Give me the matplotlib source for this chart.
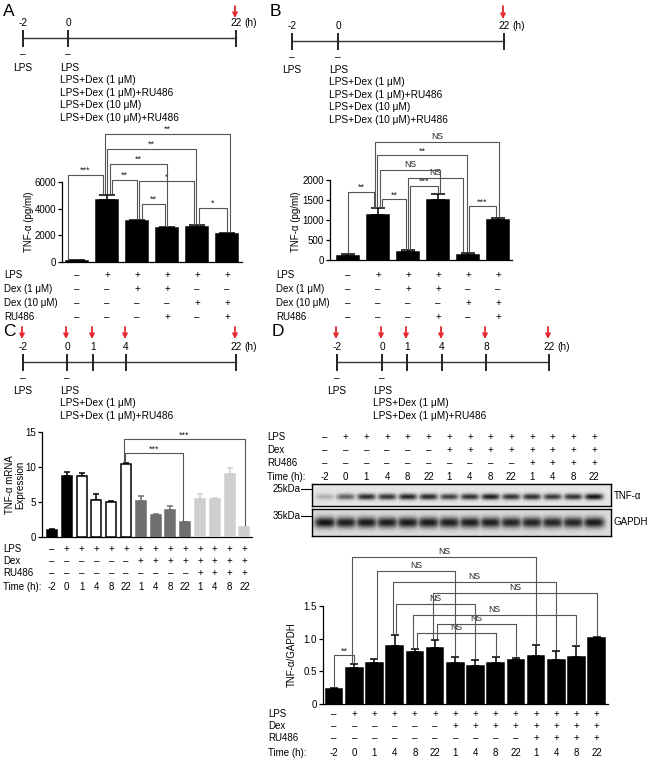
import numpy as np
import matplotlib
matplotlib.use("Agg")
import matplotlib.pyplot as plt
from matplotlib.transforms import blended_transform_factory

plt.rcParams['font.family'] = ['Liberation Sans', 'DejaVu Sans']
plt.rcParams['font.size'] = 7
plt.rcParams['axes.linewidth'] = 0.9

W, H = 650, 760
fig = plt.figure(figsize=(W / 100, H / 100), dpi=100)

# ======================= DATA =======================
# --- Panel A ---
a_tl_labels = ['-2', '0', '22']
a_tl_arrows = [False, False, True]
a_treatments = ['LPS', 'LPS+Dex (1 μM)', 'LPS+Dex (1 μM)+RU486',
                'LPS+Dex (10 μM)', 'LPS+Dex (10 μM)+RU486']
a_row_labels = ['LPS', 'Dex (1 μM)', 'Dex (10 μM)', 'RU486']
a_signs = [['–', '+', '+', '+', '+', '+'],
           ['–', '–', '+', '+', '–', '–'],
           ['–', '–', '–', '–', '+', '+'],
           ['–', '–', '–', '+', '–', '+']]
a_values = [100, 4650, 3100, 2530, 2660, 2100]
a_errors = [30, 400, 70, 70, 90, 90]
a_yticks = [0, 2000, 4000, 6000]
# (bar i, bar j, bracket height, label)
a_sig = [(0, 1, 6550, '***'), (1, 2, 6170, '**'), (2, 4, 6080, '*'),
         (1, 3, 7380, '**'), (1, 4, 8500, '**'), (1, 5, 9630, '**'),
         (2, 3, 4380, '**'), (4, 5, 4080, '*')]

# --- Panel B ---
b_tl_labels = ['-2', '0', '22']
b_tl_arrows = [False, False, True]
b_treatments = a_treatments
b_row_labels = a_row_labels
b_signs = a_signs
b_values = [100, 1120, 200, 1500, 130, 1000]
b_errors = [40, 170, 40, 160, 50, 60]
b_yticks = [0, 500, 1000, 1500, 2000]
b_sig = [(1, 5, 2958, 'NS'), (1, 4, 2625, '**'), (1, 3, 2250, 'NS'),
         (2, 4, 2058, 'NS'), (0, 1, 1708, '**'), (1, 2, 1525, '**'),
         (2, 3, 1858, '***'), (4, 5, 1350, '***')]

# --- Panel C ---
c_tl_labels = ['-2', '0', '1', '4', '22']
c_tl_arrows = [True, True, True, True, True]
c_treatments = ['LPS', 'LPS+Dex (1 μM)', 'LPS+Dex (1 μM)+RU486']
c_row_labels = ['LPS', 'Dex', 'RU486', 'Time (h):']
c_lps = ['–'] + ['+'] * 13
c_dex = ['–'] * 6 + ['+'] * 8
c_ru = ['–'] * 10 + ['+'] * 4
c_time = ['-2', '0', '1', '4', '8', '22', '1', '4', '8', '22', '1', '4', '8', '22']
c_values = [1.05, 8.7, 8.7, 5.3, 4.95, 10.5, 5.2, 3.15, 3.85, 2.1, 5.5, 5.5, 9.05, 1.45]
c_errors = [0.05, 0.55, 0.4, 0.8, 0.15, 0.1, 0.7, 0.1, 0.55, 0.05, 0.7, 0.05, 0.8, 0.05]
c_group = ['ctrl', 'ctrl', 'lps', 'lps', 'lps', 'lps', 'dex', 'dex', 'dex', 'dex',
           'ru', 'ru', 'ru', 'ru']
c_yticks = [0, 5, 10, 15]
c_sig = [(5, 9, 12.0, '***'), (5, 13, 13.95, '***')]

# --- Panel D ---
d_tl_labels = ['-2', '0', '1', '4', '8', '22']
d_tl_arrows = [True, True, True, True, True, True]
d_treatments = c_treatments
d_row_labels = c_row_labels
d_lps = c_lps
d_dex = c_dex
d_ru = c_ru
d_time = c_time
d_tnf_band = [0.25, 0.62, 0.9, 0.85, 0.92, 0.9, 0.78, 0.85, 0.95, 0.85, 0.88, 0.82, 0.85, 1.0]
d_gapdh_band = [1.0, 0.95, 0.97, 0.95, 0.97, 0.97, 0.95, 0.95, 0.95, 0.92, 0.92, 0.92, 0.92, 0.97]
d_values = [0.23, 0.55, 0.63, 0.89, 0.80, 0.86, 0.63, 0.58, 0.63, 0.68, 0.74, 0.68, 0.72, 1.02]
d_errors = [0.02, 0.065, 0.055, 0.165, 0.045, 0.12, 0.09, 0.10, 0.10, 0.025, 0.16, 0.14, 0.165, 0.015]
d_yticks = [0, 0.5, 1.0, 1.5]
d_yticklabels = ['0', '0.5', '1.0', '1.5']
d_sig = [(1, 10, 2.26, 'NS'), (2, 6, 2.05, 'NS'), (3, 11, 1.88, 'NS'),
         (5, 13, 1.71, 'NS'), (3, 7, 1.54, 'NS'), (4, 12, 1.37, 'NS'),
         (5, 9, 1.23, 'NS'), (4, 8, 1.09, 'NS'), (0, 1, 0.75, '**')]

# ======================= LAYOUT / STYLE =======================
RED = '#e3262b'
LINE = '#333333'
BR = '#555555'
FS = 7.0
FS_T = 7.3


def px_ax(x0, y0, x1, y1):
    ax = fig.add_axes([x0 / W, 1 - y1 / H, (x1 - x0) / W, (y1 - y0) / H])
    ax.patch.set_alpha(0)
    return ax


def ftext(x, y, s, **kw):
    kw.setdefault('va', 'center')
    return fig.text(x / W, 1 - y / H, s, **kw)


# overlay (schematic) axes in pixel units
ov = fig.add_axes([0, 0, 1, 1])
ov.set_xlim(0, W)
ov.set_ylim(H, 0)
ov.axis('off')


def timeline(xs, y_line, labels, arrows, lab_y, arrow_y, treat_x, treat_y, treatments):
    ov.plot([xs[0], xs[-1]], [y_line, y_line], color=LINE, lw=1.0)
    for x, lab, arr in zip(xs, labels, arrows):
        ov.plot([x, x], [y_line - 7, y_line + 8], color='#222222', lw=1.4)
        ov.text(x, lab_y, lab, ha='center', va='center', fontsize=FS_T)
        if arr:
            ov.annotate('', xy=(x - 1, arrow_y[1]), xytext=(x - 1, arrow_y[0]),
                        arrowprops=dict(arrowstyle='->', color=RED, lw=1.3,
                                        mutation_scale=7, shrinkA=0, shrinkB=0))
    ov.text(xs[-1] + 8, lab_y, '(h)', ha='left', va='center', fontsize=FS_T)
    for x in xs[:2]:
        ov.text(x, y_line + 16, '–', ha='center', va='center', fontsize=FS_T)
    ov.text(xs[0], treat_y, 'LPS', ha='center', va='center', fontsize=FS_T)
    for k, t in enumerate(treatments):
        ov.text(treat_x, treat_y + k * 12.4, t, ha='left', va='center', fontsize=FS_T)


def bar_chart(rect, values, errors, width, xlim, ylim, yticks, yticklabels,
              colors, edgecolors, ecolors, capsize):
    ax = px_ax(*rect)
    x = np.arange(len(values))
    ax.bar(x, values, width=width, color=colors, edgecolor=edgecolors,
           linewidth=1.1, zorder=3)
    for xi, v, e, c in zip(x, values, errors, ecolors):
        ax.errorbar(xi, v, yerr=[[0], [e]], fmt='none', ecolor=c, elinewidth=1.1,
                    capsize=capsize, capthick=1.1, zorder=2)
    ax.set_xlim(*xlim)
    ax.set_ylim(*ylim)
    ax.set_xticks([])
    ax.set_yticks(yticks)
    ax.set_yticklabels(yticklabels, fontsize=FS)
    ax.tick_params(axis='y', length=3, width=0.9, pad=1.2)
    for s in ['top', 'right']:
        ax.spines[s].set_visible(False)
    ax.spines['left'].set_bounds(yticks[0], yticks[-1])
    return ax


def brackets(ax, values, errors, sig, gap, dx, fs=6.5, ns_fs=6.2):
    for (i, j, y, lab), (dxi, dxj) in zip(sig, dx):
        xi, xj = i + dxi, j + dxj
        yi = values[i] + errors[i] + gap
        yj = values[j] + errors[j] + gap
        ax.plot([xi, xi, xj, xj], [yi, y, y, yj], color=BR, lw=0.8,
                clip_on=False, zorder=4)
        f = ns_fs if lab == 'NS' else fs
        off = gap * 0.6 if lab == 'NS' else -gap * 0.2
        ax.text((xi + xj) / 2, y + off, lab, ha='center', va='bottom',
                fontsize=f, color='#222222')


def sign_rows(ax, rows, ys, fs=FS):
    tr = blended_transform_factory(ax.transData, fig.transFigure)
    for row, y in zip(rows, ys):
        for i, s in enumerate(row):
            ax.text(i, 1 - y / H, s, transform=tr, ha='center', va='center', fontsize=fs)


# ----------------- panel letters -----------------
for lab, (x, y) in zip(['A', 'B', 'C', 'D'], [(3, 11), (270, 11), (3, 331), (272, 331)]):
    ftext(x, y, lab, fontsize=12.5, ha='left')

# ----------------- timelines -----------------
timeline([23, 68, 236], 38, a_tl_labels, a_tl_arrows, 23, (6, 18), 60, 68, a_treatments)
timeline([292, 338, 504], 41, b_tl_labels, b_tl_arrows, 26, (6, 19), 329, 70, b_treatments)
timeline([23, 67, 93, 126, 236], 362, c_tl_labels, c_tl_arrows, 347, (327, 339), 60, 391,
         c_treatments)
timeline([337, 382, 407, 442, 486, 549], 362, d_tl_labels, d_tl_arrows, 347, (327, 339),
         373, 391, d_treatments)

# ----------------- Panel A chart -----------------
axA = bar_chart((62, 120, 242, 262), a_values, a_errors, 0.73, (-0.5, 5.5), (0, 10650),
                a_yticks, [str(t) for t in a_yticks], 'black', 'black', ['black'] * 6, 6)
brackets(axA, a_values, a_errors, a_sig, 120,
         [(-0.3, -0.13), (0.15, 0.0), (0.05, -0.1), (0.1, 0.0), (0.0, -0.05),
          (-0.07, 0.1), (0.17, -0.07), (0.07, 0.0)])
ftext(29, 222, 'TNF-α (pg/ml)', rotation=90, ha='center', fontsize=FS)
a_rows_y = [275, 289, 303, 317]
for lab, y in zip(a_row_labels, a_rows_y):
    ftext(4, y, lab, ha='left', fontsize=FS)
sign_rows(axA, a_signs, a_rows_y)

# ----------------- Panel B chart -----------------
axB = bar_chart((330, 128, 512, 260), b_values, b_errors, 0.72, (-0.6, 5.467), (0, 3300),
                b_yticks, [str(t) for t in b_yticks], 'black', 'black', ['black'] * 6, 4.7)
brackets(axB, b_values, b_errors, b_sig, 40,
         [(-0.1, 0.03), (-0.03, -0.03), (0.07, 0.07), (0.0, -0.17), (0.0, -0.13),
          (0.13, -0.07), (0.07, 0.0), (0.03, -0.07)])
ftext(296, 222, 'TNF-α (pg/ml)', rotation=90, ha='center', fontsize=FS)
for lab, y in zip(b_row_labels, a_rows_y):
    ftext(276, y, lab, ha='left', fontsize=FS)
sign_rows(axB, b_signs, a_rows_y)

# ----------------- Panel C chart -----------------
grp_face = {'ctrl': 'black', 'lps': 'white', 'dex': '#6f6f6f', 'ru': '#cfcfcf'}
grp_edge = {'ctrl': 'black', 'lps': 'black', 'dex': '#6f6f6f', 'ru': '#cfcfcf'}
axC = bar_chart((42, 425, 252, 537), c_values, c_errors, 0.68, (-0.676, 13.51), (0, 16),
                c_yticks, [str(t) for t in c_yticks],
                [grp_face[g] for g in c_group], [grp_edge[g] for g in c_group],
                [grp_edge[g] for g in c_group], 2.2)
brackets(axC, c_values, c_errors, c_sig, 0.25, [(-0.07, -0.15), (-0.13, 0.04)])
ftext(15, 485, 'TNF-α mRNA\nExpression', rotation=90, ha='center', fontsize=FS,
      linespacing=1.0)
c_rows_y = [549, 561, 573, 587]
for lab, y in zip(c_row_labels, c_rows_y):
    ftext(3, y, lab, ha='left', fontsize=FS)
sign_rows(axC, [c_lps, c_dex, c_ru, c_time], c_rows_y)

# ----------------- Panel D blot -----------------
blot_xlim = (-0.628, 13.816)


def blot(rect, intens, band_y, band_h, band_w, bg):
    ax = px_ax(*rect)
    xs = np.linspace(blot_xlim[0], blot_xlim[1], 700)
    ys = np.linspace(0, 1, 80)
    X, Y = np.meshgrid(xs, ys)
    dark = np.zeros_like(X)
    for i, v in enumerate(intens):
        prof = v * np.exp(-np.abs((X - i) / band_w) ** 4) * np.exp(-((Y - band_y) / band_h) ** 2)
        dark = np.maximum(dark, prof)
    img = bg - (bg - 0.07) * dark
    ax.imshow(img, extent=[blot_xlim[0], blot_xlim[1], 0, 1], origin='lower', cmap='gray',
              vmin=0, vmax=1, aspect='auto', interpolation='bilinear')
    ax.set_xlim(*blot_xlim)
    ax.set_ylim(0, 1)
    ax.set_xticks([])
    ax.set_yticks([])
    for s in ax.spines.values():
        s.set_linewidth(1.0)
    return ax


axT = blot((312, 484, 611, 506), d_tnf_band, 0.42, 0.14, 0.45, 0.9)
axG = blot((312, 509, 611, 536), d_gapdh_band, 0.5, 0.2, 0.52, 0.86)
ftext(614, 496, 'TNF-α', ha='left', fontsize=FS)
ftext(614, 522, 'GAPDH', ha='left', fontsize=FS)
ftext(301, 489, '25kDa', ha='right', fontsize=FS)
ftext(301, 516, '35kDa', ha='right', fontsize=FS)
ov.plot([301, 312], [489, 489], color='black', lw=0.8)
ov.plot([301, 312], [516, 516], color='black', lw=0.8)
d_blot_rows_y = [437, 450, 463, 477]
for lab, y in zip(d_row_labels, d_blot_rows_y):
    ftext(267, y, lab, ha='left', fontsize=FS)
sign_rows(axT, [d_lps, d_dex, d_ru, d_time], d_blot_rows_y)

# ----------------- Panel D chart -----------------
axD = bar_chart((323, 545, 608, 704), d_values, d_errors, 0.82, (-0.545, 13.56), (0, 2.446),
                d_yticks, d_yticklabels, 'black', 'black', ['black'] * 14, 3.2)
brackets(axD, d_values, d_errors, d_sig, 0.03,
         [(-0.12, 0.0), (0.13, 0.0), (-0.08, 0.0), (-0.1, 0.0), (0.07, 0.0),
          (-0.09, 0.0), (0.1, 0.0), (0.11, 0.0), (0.0, 0.0)])
ftext(292, 655, 'TNF-α/GAPDH', rotation=90, ha='center', fontsize=FS)
d_rows_y = [714, 726, 738, 753]
for lab, y in zip(d_row_labels, d_rows_y):
    ftext(268, y, lab, ha='left', fontsize=FS)
sign_rows(axD, [d_lps, d_dex, d_ru, d_time], d_rows_y)

fig.savefig('out.png', dpi=100)
